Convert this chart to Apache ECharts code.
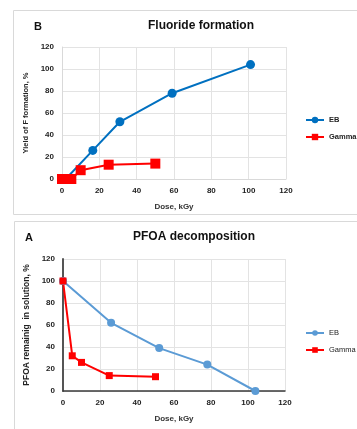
<!DOCTYPE html>
<html><head><meta charset="utf-8">
<script src="https://cdn.jsdelivr.net/npm/echarts@6/dist/echarts.min.js"></script>
<style>html,body{margin:0;padding:0;background:#fff}#c{width:357px;height:429px}</style>
</head><body><div id="c"></div>
<script>
// Panel B: Fluoride formation
const fluorideEBDose = [2, 16.5, 31, 59, 101];
const fluorideEBYield = [0, 26, 52, 78, 104];
const fluorideGammaDose = [0, 5, 10, 25, 50];
const fluorideGammaYield = [0, 0, 8, 13, 14];
// Panel A: PFOA decomposition
const pfoaEBDose = [0, 26, 52, 78, 104];
const pfoaEBRemain = [100, 62, 39, 24, 0];
const pfoaGammaDose = [0, 5, 10, 25, 50];
const pfoaGammaRemain = [100, 32, 26, 14, 13];
const xTicks = [0, 20, 40, 60, 80, 100, 120];
const yTicks = [0, 20, 40, 60, 80, 100, 120];

const zip = (a, b) => a.map((v, i) => [v, b[i]]);
const FONT = '"Liberation Sans", Arial, sans-serif';
const lbl = {fontFamily: FONT, fontSize: 8, fontWeight: 'bold', color: '#222'};
const gridLine = {show: true, lineStyle: {color: '#e3e3e3', width: 1}};

function xAxis(gi, dark) {
  return {gridIndex: gi, type: 'value', min: xTicks[0], max: xTicks[xTicks.length-1], interval: 20,
    name: 'Dose, kGy', nameLocation: 'middle', nameGap: 24,
    nameTextStyle: {fontFamily: FONT, fontSize: 8, fontWeight: 'bold', color: '#333'},
    axisLine: {show: true, onZero: false, lineStyle: {color: dark ? '#3a3a3a' : '#d9d9d9', width: dark ? 1.5 : 1}},
    axisTick: {show: false}, axisLabel: Object.assign({margin: 8}, lbl), splitLine: gridLine};
}
function yAxis(gi, name, dark, size, gap) {
  return {gridIndex: gi, type: 'value', min: yTicks[0], max: yTicks[yTicks.length-1], interval: 20,
    name: name, nameLocation: 'middle', nameGap: gap,
    nameTextStyle: {fontFamily: FONT, fontSize: size, fontWeight: 'bold', color: '#222'},
    axisLine: {show: true, lineStyle: {color: dark ? '#555' : '#d9d9d9', width: dark ? 2 : 1}},
    axisTick: {show: false}, axisLabel: Object.assign({margin: 8}, lbl), splitLine: gridLine};
}
function series(name, gi, data, color, symbol, size) {
  return {name: name, type: 'line', xAxisIndex: gi, yAxisIndex: gi, data: data,
    symbol: symbol, symbolSize: size, lineStyle: {color: color, width: 2},
    itemStyle: {color: color}, animation: false};
}

const chart = echarts.init(document.getElementById('c'), null, {renderer: 'canvas'});
chart.setOption({
  animation: false,
  graphic: [
    {type: 'rect', shape: {x: 13.5, y: 10.5, width: 360, height: 204}, style: {fill: 'none', stroke: '#d9d9d9', lineWidth: 1}},
    {type: 'rect', shape: {x: 14.5, y: 221.5, width: 360, height: 220}, style: {fill: 'none', stroke: '#d9d9d9', lineWidth: 1}},
    {type: 'text', left: 34, top: 21, style: {text: 'B', font: 'bold 11px ' + FONT, fill: '#111'}},
    {type: 'text', left: 148, top: 20, style: {text: 'Fluoride formation', font: 'bold 12px ' + FONT, fill: '#111'}},
    {type: 'text', left: 25, top: 232, style: {text: 'A', font: 'bold 11px ' + FONT, fill: '#111'}},
    {type: 'text', left: 133, top: 231, style: {text: 'PFOA decomposition', font: 'bold 12px ' + FONT, fill: '#111'}}
  ],
  grid: [
    {left: 62, top: 47, width: 224, height: 132},
    {left: 63, top: 259, width: 222, height: 132}
  ],
  legend: [
    {orient: 'vertical', left: 305, top: 116, padding: 0, itemGap: 9, itemWidth: 18, itemHeight: 8,
      data: ['EB', 'Gamma'], textStyle: {fontFamily: FONT, fontSize: 7.5, fontWeight: 'bold', color: '#222'}, selectedMode: false},
    {orient: 'vertical', left: 305, top: 329, padding: 0, itemGap: 9, itemWidth: 18, itemHeight: 7,
      data: ['EB ', 'Gamma '], textStyle: {fontFamily: FONT, fontSize: 7.5, color: '#222'}, selectedMode: false}
  ],
  xAxis: [xAxis(0, false), xAxis(1, true)],
  yAxis: [yAxis(0, 'Yield of F formation, %', false, 7.5, 26), yAxis(1, 'PFOA remainig  in solution, %', true, 8.5, 27)],
  series: [
    series('EB', 0, zip(fluorideEBDose, fluorideEBYield), '#0070c0', 'circle', 9),
    series('Gamma', 0, zip(fluorideGammaDose, fluorideGammaYield), '#ff0000', 'rect', 10),
    series('EB ', 1, zip(pfoaEBDose, pfoaEBRemain), '#5b9bd5', 'circle', 8),
    series('Gamma ', 1, zip(pfoaGammaDose, pfoaGammaRemain), '#ff0000', 'rect', 7)
  ]
});
</script></body></html>
